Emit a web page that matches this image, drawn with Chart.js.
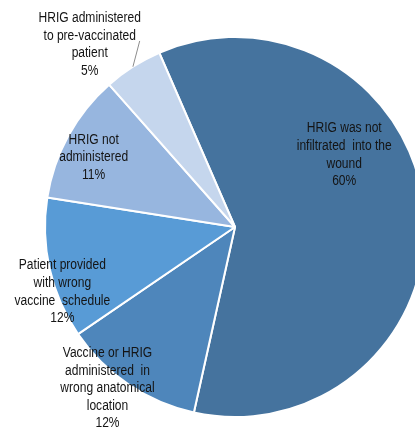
<!DOCTYPE html>
<html>
<head>
<meta charset="utf-8">
<script src="https://cdn.jsdelivr.net/npm/chart.js@4/dist/chart.umd.min.js"></script>
<style>
  html, body { margin: 0; padding: 0; background: #fff; overflow: hidden; width: 415px; height: 430px; }
  #wrap { position: absolute; left: 0; top: 0; width: 470px; height: 454px; }
</style>
</head>
<body>
<div id="wrap"><canvas id="pie" width="470" height="454"></canvas></div>
<script>
// slice names, split in lines like the original labels
const categories = [
  ["HRIG was not", "infiltrated  into the", "wound"],
  ["Vaccine or HRIG", "administered  in", "wrong anatomical", "location"],
  ["Patient provided", "with wrong", "vaccine  schedule"],
  ["HRIG not", "administered"],
  ["HRIG administered", "to pre-vaccinated", "patient"]
];
const percentages = [60, 12, 12, 11, 5];
const sliceColors = ["#45739e", "#4e86bb", "#589bd6", "#97b6df", "#c5d6ed"];

// where each label sits inside its slice (fraction of the sweep, fraction of radius)
const labelPlacement = [
  { angle: 0.37, radius: 0.69 },
  { angle: 0.60, radius: 1.08 },
  { angle: 0.32, radius: 0.97 },
  { angle: 0.44, radius: 0.83 },
  { angle: 0.17, radius: 1.23, leader: true }
];

const sliceLabels = {
  id: "sliceLabels",
  afterDatasetsDraw(chart) {
    const ctx = chart.ctx;
    const meta = chart.getDatasetMeta(0);
    const lh = 17.6;
    const squeeze = 0.86; // the original text is a bit condensed
    ctx.save();
    ctx.font = '14px "Liberation Sans", Arial, sans-serif';
    ctx.fillStyle = "#141414";
    ctx.textAlign = "center";
    ctx.textBaseline = "middle";
    meta.data.forEach((arc, i) => {
      const p = arc.getProps(["x", "y", "startAngle", "endAngle", "outerRadius"], true);
      const place = labelPlacement[i];
      const a = p.startAngle + (p.endAngle - p.startAngle) * place.angle;
      const r = p.outerRadius * place.radius;
      const cx = p.x + Math.cos(a) * r;
      const cy = p.y + Math.sin(a) * r;
      const lines = [...categories[i], percentages[i] + "%"];
      ctx.save();
      ctx.translate(cx, cy);
      ctx.scale(squeeze, 1);
      lines.forEach((t, k) => {
        ctx.fillText(t, 0, (k - (lines.length - 1) / 2) * lh + 0.5);
      });
      ctx.restore();
      if (place.leader) {
        const mid = (p.startAngle + p.endAngle) / 2;
        ctx.beginPath();
        ctx.strokeStyle = "#8c8c8c";
        ctx.lineWidth = 1;
        ctx.moveTo(p.x + Math.cos(mid) * p.outerRadius, p.y + Math.sin(mid) * p.outerRadius);
        ctx.lineTo(cx + 50, cy - 3);
        ctx.stroke();
      }
    });
    ctx.restore();
  }
};

new Chart(document.getElementById("pie").getContext("2d"), {
  type: "pie",
  data: {
    labels: categories.map(c => c.join(" ")),
    datasets: [{
      data: percentages,
      backgroundColor: sliceColors,
      borderColor: "#ffffff",
      borderWidth: 2
    }]
  },
  options: {
    responsive: false,
    animation: false,
    rotation: -23.5,
    radius: 190,
    layout: { padding: 0 },
    plugins: {
      legend: { display: false },
      tooltip: { enabled: false }
    }
  },
  plugins: [sliceLabels]
});
</script>
</body>
</html>
